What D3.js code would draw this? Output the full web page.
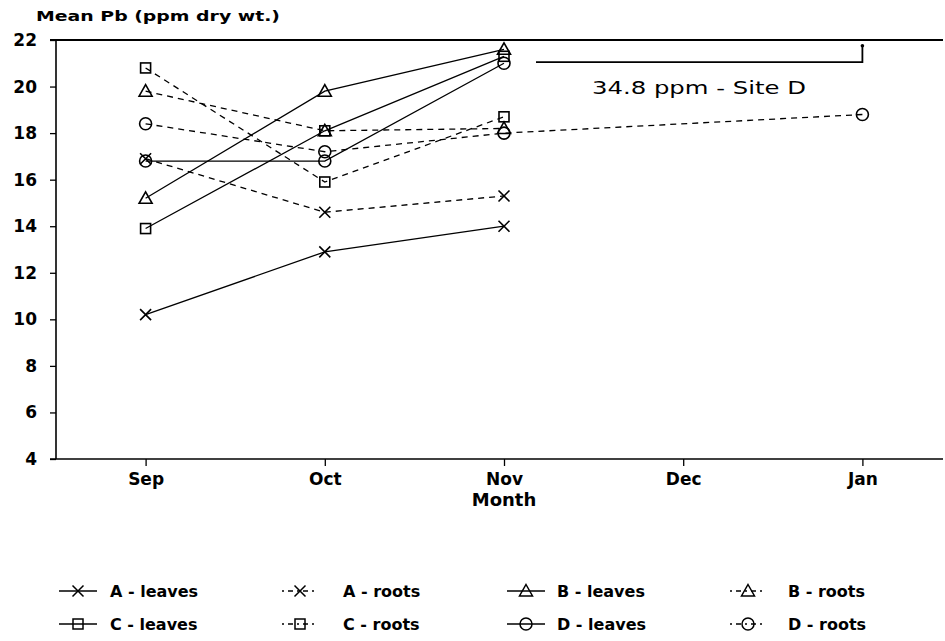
<!DOCTYPE html>
<html>
<head>
<meta charset="utf-8">
<script src="https://cdn.jsdelivr.net/npm/d3@7"></script>
<style>
  html, body { margin: 0; padding: 0; background: #fff; }
  svg { display: block; }
  text { font-family: "DejaVu Sans", "Liberation Sans", Arial, sans-serif; fill: #000; }
</style>
</head>
<body>
<svg id="chart" width="945" height="641"></svg>
<script>
// Months on the horizontal axis
const months = ["Sep", "Oct", "Nov", "Dec", "Jan"];
// Vertical axis ticks (ppm dry wt.)
const yTicks = [4, 6, 8, 10, 12, 14, 16, 18, 20, 22];

// Mean Pb per site and tissue; null = not sampled
const aLeaves = [10.2, 12.9, 14.0, null, null];
const aRoots  = [16.9, 14.6, 15.3, null, null];
const bLeaves = [15.2, 19.8, 21.6, null, null];
const bRoots  = [19.8, 18.1, 18.2, null, null];
const cLeaves = [13.9, 18.1, 21.3, null, null];
const cRoots  = [20.8, 15.9, 18.7, null, null];
const dLeaves = [16.8, 16.8, 21.0, null, null];
const dRoots  = [18.4, 17.2, 18.0, null, 18.8];

// Site D leaves in January lies above the axis range
const dLeavesJan = 34.8;

const seriesNames  = ["A - leaves", "A - roots", "B - leaves", "B - roots",
                      "C - leaves", "C - roots", "D - leaves", "D - roots"];
const seriesValues = [aLeaves, aRoots, bLeaves, bRoots, cLeaves, cRoots, dLeaves, dRoots];
const seriesSymbol = ["x", "x", "tri", "tri", "sq", "sq", "circ", "circ"];
const seriesDashed = [false, true, false, true, false, true, false, true];

const FONT = "'DejaVu Sans', 'Liberation Sans', Arial, sans-serif";
const svg = d3.select("#chart");
const plotLeft = 56, plotRight = 952, plotTop = 40, plotBottom = 459;

const x = d3.scalePoint().domain(months).range([plotLeft, plotRight]).padding(0.5);
const y = d3.scaleLinear().domain([4, 22]).range([plotBottom, plotTop]);

// Frame: top rule, left axis, bottom axis
svg.append("line").attr("x1", plotLeft - 6).attr("x2", 943).attr("y1", plotTop).attr("y2", plotTop)
  .attr("stroke", "#000").attr("stroke-width", 2);

const yAxis = d3.axisLeft(y).tickValues(yTicks).tickSize(6).tickPadding(13)
  .tickFormat(d3.format("d"));
const gy = svg.append("g").attr("transform", `translate(${plotLeft},0)`).call(yAxis);
gy.select(".domain").remove();
gy.selectAll(".tick line").attr("stroke", "#000").attr("stroke-width", 1.3);
gy.selectAll(".tick text").attr("font-size", 17).attr("font-weight", "bold")
  .attr("font-family", FONT);
svg.append("line").attr("x1", plotLeft).attr("x2", plotLeft).attr("y1", plotTop).attr("y2", plotBottom)
  .attr("stroke", "#000").attr("stroke-width", 1.6);

const xAxis = d3.axisBottom(x).tickSize(7).tickPadding(7);
const gx = svg.append("g").attr("transform", `translate(0,${plotBottom})`).call(xAxis);
gx.select(".domain").remove();
gx.selectAll(".tick line").attr("stroke", "#000").attr("stroke-width", 1.3);
gx.selectAll(".tick text").attr("font-size", 17).attr("font-weight", "bold")
  .attr("font-family", FONT);
svg.append("line").attr("x1", plotLeft - 6).attr("x2", 943).attr("y1", plotBottom).attr("y2", plotBottom)
  .attr("stroke", "#000").attr("stroke-width", 1.6);

// Axis titles
svg.append("text").attr("x", 36).attr("y", 21).attr("font-size", 14).attr("font-weight", "bold")
  .attr("textLength", 244).attr("lengthAdjust", "spacingAndGlyphs")
  .text("Mean Pb (ppm dry wt.)");
svg.append("text").attr("x", (plotLeft + plotRight) / 2).attr("y", 506).attr("text-anchor", "middle")
  .attr("font-size", 18).attr("font-weight", "bold").text("Month");

// Marker shapes
function marker(g, type, cx, cy) {
  const s = 5.5;
  if (type === "x") {
    g.append("path").attr("d", `M${cx - s},${cy - s}L${cx + s},${cy + s}M${cx - s},${cy + s}L${cx + s},${cy - s}`);
  } else if (type === "tri") {
    g.append("path").attr("d", `M${cx},${cy - 6.5}L${cx + 6.5},${cy + 5}L${cx - 6.5},${cy + 5}Z`);
  } else if (type === "sq") {
    g.append("rect").attr("x", cx - 5).attr("y", cy - 5).attr("width", 10).attr("height", 10);
  } else {
    g.append("circle").attr("cx", cx).attr("cy", cy).attr("r", 6);
  }
}

const line = d3.line().x(d => x(d.m)).y(d => y(d.v));
const plot = svg.append("g").attr("fill", "none").attr("stroke", "#000");

seriesValues.forEach((vals, i) => {
  const pts = vals.map((v, j) => ({ m: months[j], v })).filter(d => d.v !== null);
  const g = plot.append("g");
  g.append("path").datum(pts).attr("d", line)
    .attr("stroke-width", 1.3)
    .attr("stroke-dasharray", seriesDashed[i] ? "6,5" : null);
  const mg = g.append("g").attr("stroke-width", 1.6);
  pts.forEach(d => marker(mg, seriesSymbol[i], x(d.m), y(d.v)));
});

// Off-scale note for Site D leaves in January
const noteY = y(21.05);
const noteX0 = x("Nov") + 32, noteX1 = x("Jan");
svg.append("path")
  .attr("d", `M${noteX0},${noteY}H${noteX1}V${y(21.75)}`)
  .attr("fill", "none").attr("stroke", "#000").attr("stroke-width", 1.8);
svg.append("circle").attr("cx", noteX1).attr("cy", y(21.75)).attr("r", 1.8).attr("fill", "#000");
const noteText = `${dLeavesJan} ppm - Site D`;
svg.append("text").attr("x", 592).attr("y", noteY + 32)
  .attr("font-size", 17).attr("textLength", 214).attr("lengthAdjust", "spacingAndGlyphs")
  .text(noteText);

// Legend: two rows, four columns
const legendCols = [78, 300, 526, 748];
const legendTextX = [110, 343, 557, 788];
const legendRows = [591, 624];
seriesNames.forEach((name, i) => {
  const cx = legendCols[i % 4], cy = legendRows[Math.floor(i / 4)];
  const g = svg.append("g").attr("fill", "none").attr("stroke", "#000");
  if (seriesDashed[i]) {
    g.append("line").attr("x1", cx - 18).attr("x2", cx + 16).attr("y1", cy).attr("y2", cy)
      .attr("stroke-width", 1.3).attr("stroke-dasharray", "2,4,5,4");
  } else {
    g.append("line").attr("x1", cx - 19).attr("x2", cx + 19).attr("y1", cy).attr("y2", cy)
      .attr("stroke-width", 1.3);
  }
  const mg = g.append("g").attr("stroke-width", 1.5);
  marker(mg, seriesSymbol[i], cx, cy);
  svg.append("text").attr("x", legendTextX[i % 4]).attr("y", cy + 6).attr("font-size", 16)
    .attr("font-weight", "bold").attr("font-family", FONT).text(name);
});
</script>
</body>
</html>
